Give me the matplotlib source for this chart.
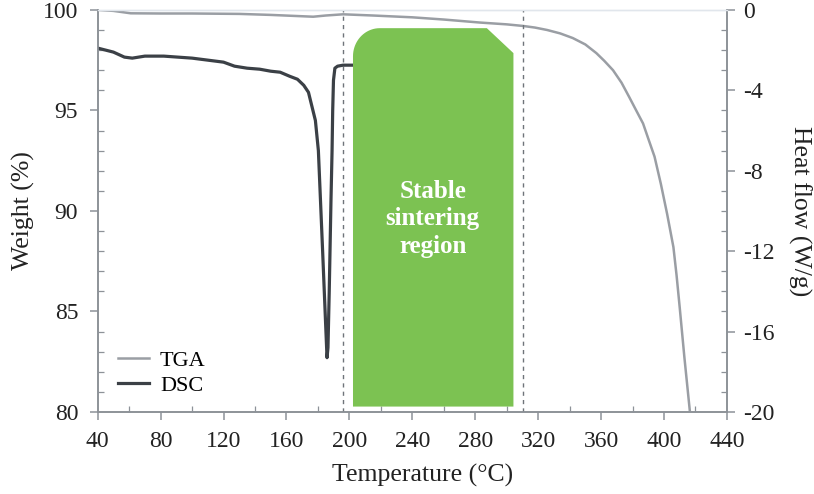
import numpy as np
import matplotlib.pyplot as plt
from matplotlib.patches import Polygon
from matplotlib.ticker import MultipleLocator

plt.rcParams['font.family'] = ['Liberation Serif', 'DejaVu Serif']
plt.rcParams['axes.unicode_minus'] = False

# TGA (weight %)
tga_temp = [40, 50, 61, 80, 100, 130, 150, 165, 177, 185, 196, 215, 240, 260, 283, 300,
            310.5, 318, 325.7, 334, 342, 350, 357, 362, 367.6, 373, 378, 382, 386.7, 390,
            394, 398, 402, 406, 408, 410, 413, 416.5, 417.5]
tga_weight = [100.0, 99.95, 99.83, 99.82, 99.82, 99.8, 99.75, 99.7, 99.66, 99.72, 99.78, 99.72,
              99.63, 99.52, 99.37, 99.28, 99.2, 99.12, 99.0, 98.83, 98.6, 98.28, 97.85, 97.47,
              97.0, 96.38, 95.65, 95.05, 94.35, 93.6, 92.7, 91.35, 89.85, 88.2, 86.8, 85.2,
              82.7, 80.0, 79.3]

# DSC (heat flow W/g)
dsc_temp = [40, 50, 57, 62, 70, 82, 100, 120, 127, 135, 143, 150, 156, 162, 167, 171, 174,
            178.4, 180.3, 183, 185.0, 185.8, 186.4, 187.2, 188.3, 189.0, 189.4, 189.9, 190.8,
            192.5, 196, 203]
dsc_heat = [-1.9, -2.1, -2.35, -2.4, -2.3, -2.3, -2.4, -2.6, -2.8, -2.9, -2.95, -3.05, -3.1,
            -3.3, -3.45, -3.75, -4.1, -5.5, -7.0, -12.0, -15.8, -17.3, -16.8, -14.0, -9.5,
            -7.0, -5.0, -3.5, -2.9, -2.8, -2.75, -2.75]

region_start, region_end = 202.3, 304.3
dash_lines = [196, 310.5]

x_ticks = np.arange(40, 441, 40)
w_ticks = [80, 85, 90, 95, 100]
h_ticks = [-20, -16, -12, -8, -4, 0]

tga_color = '#9a9ea4'
dsc_color = '#3b4046'
spine_color = '#8d9298'
green = '#7cc252'

fig = plt.figure(figsize=(8.14, 4.94), dpi=100)
ax = fig.add_axes([0.12, 0.166, 0.773, 0.814])
ax2 = ax.twinx()

l1, = ax.plot(tga_temp, tga_weight, color=tga_color, lw=1.8, label='TGA', zorder=3)
l2, = ax2.plot(dsc_temp, dsc_heat, color=dsc_color, lw=2.3, label='DSC', zorder=2)

for xv in dash_lines:
    ax2.axvline(xv, color='#6f747a', lw=1.0, ls=(0, (3, 3)), zorder=1)

# green "stable sintering region" box, drawn in weight coordinates on top of DSC
top, bottom = 99.09, 80.27
cham_x, cham_y = 287.4, 97.85
rx, ry = 17.0, 1.4
ang = np.linspace(np.pi, np.pi / 2, 20)
arc = np.column_stack([region_start + rx + rx * np.cos(ang), top - ry + ry * np.sin(ang)])
pts = np.vstack([[[region_start, bottom]], arc,
                 [[cham_x, top], [region_end, cham_y], [region_end, bottom]]])
box = Polygon(pts, closed=True, facecolor=green, edgecolor='none', zorder=4,
              transform=ax.transData)
ax2.add_patch(box)
ax2.text(253, 89.6, 'Stable\nsintering\nregion', transform=ax.transData, color='white',
         fontsize=18, fontweight='bold', ha='center', va='center', linespacing=1.25, zorder=5)

ax.set_xlim(40, 440)
ax.set_ylim(80, 100)
ax2.set_ylim(-20, 0)
ax.set_xticks(x_ticks)
ax.set_yticks(w_ticks)
ax2.set_yticks(h_ticks)
ax.xaxis.set_minor_locator(MultipleLocator(20))
ax.yaxis.set_minor_locator(MultipleLocator(1))
ax2.yaxis.set_minor_locator(MultipleLocator(1))

for a in (ax, ax2):
    for s in a.spines.values():
        s.set_color(spine_color)
        s.set_linewidth(1.2)
    a.spines['top'].set_color('#e1e6ec')
    a.spines['top'].set_linewidth(1.0)
    a.tick_params(which='major', direction='out', length=6, width=1.1, color=spine_color,
                  labelsize=17, labelcolor='#222222')
    a.tick_params(which='minor', direction='in', length=4, width=0.9, color=spine_color)
ax.tick_params(axis='x', pad=8)
ax.tick_params(axis='y', pad=8)
ax2.tick_params(axis='y', pad=6)

ax.set_xlabel('Temperature (°C)', fontsize=18.5, color='#222222')
ax.xaxis.set_label_coords(0.517, -0.13)
ax.set_ylabel('Weight (%)', fontsize=18.5, color='#222222', labelpad=6)
ax2.set_ylabel('Heat flow (W/g)', fontsize=18.5, color='#222222', rotation=270, labelpad=26)

ax2.legend([l1, l2], ['TGA', 'DSC'], loc='lower left', bbox_to_anchor=(0.0, -0.01),
           frameon=False, fontsize=16, handlelength=1.4, handletextpad=0.5,
           labelspacing=0.2)

fig.savefig('out.png', dpi=100)
